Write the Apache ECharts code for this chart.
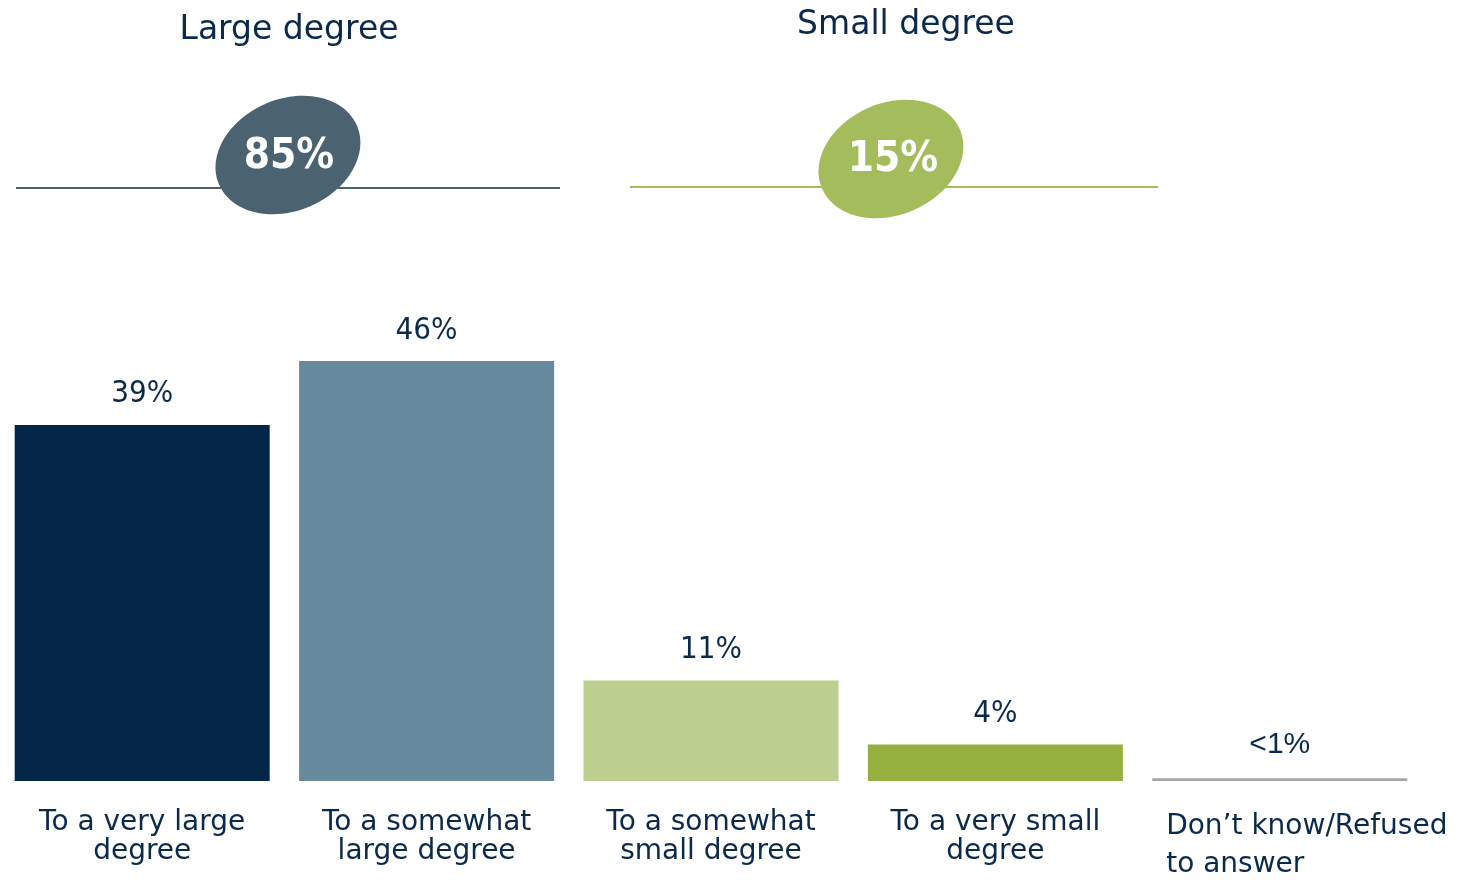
<!DOCTYPE html>
<html><head><meta charset="utf-8">
<script src="https://cdn.jsdelivr.net/npm/echarts@6/dist/echarts.min.js"></script>
<style>html,body{margin:0;padding:0;background:#fff}#c{width:1465px;height:880px}</style>
</head><body><div id="c"></div>
<script>
const categories = ['To a very large\ndegree', 'To a somewhat\nlarge degree', 'To a somewhat\nsmall degree', 'To a very small\ndegree', 'Don’t know/Refused\nto answer'];
const values = [39, 46, 11, 4, 0.3];
const valueLabels = ['39%', '46%', '11%', '4%', '<1%'];
const barColors = ['#032546', '#678a9e', '#bccf8e', '#95b03f', '#a6a6a6'];
const groupTitles = ['Large degree', 'Small degree'];
const groupTotals = ['85%', '15%'];

const FONTC = "'DejaVu Sans Condensed','DejaVu Sans',sans-serif";
const FONT = "'DejaVu Sans',sans-serif";
const TXT = '#0b2a4a';

const chart = echarts.init(document.getElementById('c'));
const option = {
  backgroundColor: '#fff',
  animation: false,
  grid: { left: 0, right: 43, top: 324.5, bottom: 99, containLabel: false, outerBoundsMode: 'none' },
  xAxis: {
    type: 'category',
    data: categories.map((c, i) => i === 4 ? { value: c, textStyle: { padding: [0, 0, 0, 54] } } : c),
    axisLine: { show: false }, axisTick: { show: false },
    axisLabel: {
      interval: 0, margin: 27, fontFamily: FONT, fontSize: 28, color: TXT, lineHeight: 29,
      formatter: (v, i) => {
        if (i === 4) return v.split('\n').map(s => '{l|' + s + '}').join('\n');
        return v;
      },
      rich: { l: { align: 'left', fontFamily: FONT, fontSize: 28, color: TXT, lineHeight: 38 } }
    }
  },
  yAxis: { type: 'value', min: 0, max: 50, show: false, splitLine: { show: false } },
  series: [{
    type: 'bar', barWidth: 255,
    data: values.map((v, i) => ({
      value: v, itemStyle: { color: barColors[i] },
      label: i === 4 ? { distance: 19 } : undefined
    })),
    label: {
      show: true, position: 'top', distance: 15,
      fontFamily: FONTC, fontSize: 31, color: TXT,
      formatter: p => p.dataIndex === 4 ? '{a|' + valueLabels[4] + '}' : valueLabels[p.dataIndex],
      rich: { a: { fontFamily: "'Liberation Sans',Arial,sans-serif", fontSize: 30, color: TXT } }
    }
  }],
  graphic: [
    { type: 'line', shape: { x1: 16, y1: 188, x2: 560, y2: 188 }, style: { stroke: '#4b6070', lineWidth: 2 } },
    { type: 'line', shape: { x1: 630, y1: 187, x2: 1158, y2: 187 }, style: { stroke: '#a5bc5c', lineWidth: 2 } },
    { type: 'ellipse', x: 288, y: 155, rotation: 0.4, shape: { cx: 0, cy: 0, rx: 75, ry: 56 }, style: { fill: '#4b6270' } },
    { type: 'ellipse', x: 891, y: 159, rotation: 0.4, shape: { cx: 0, cy: 0, rx: 75, ry: 56 }, style: { fill: '#a5bc5c' } },
    { type: 'text', x: 289, y: 157, style: { text: groupTotals[0], font: "bold 42px " + FONTC, fill: '#fff', textAlign: 'center', textVerticalAlign: 'middle' } },
    { type: 'text', x: 893, y: 160, style: { text: groupTotals[1], font: "bold 42px " + FONTC, fill: '#fff', textAlign: 'center', textVerticalAlign: 'middle' } },
    { type: 'text', x: 289, y: 30, style: { text: groupTitles[0], font: "33px " + FONT, fill: TXT, textAlign: 'center', textVerticalAlign: 'middle' } },
    { type: 'text', x: 906, y: 25, style: { text: groupTitles[1], font: "33px " + FONT, fill: TXT, textAlign: 'center', textVerticalAlign: 'middle' } }
  ]
};
chart.setOption(option);
</script></body></html>
